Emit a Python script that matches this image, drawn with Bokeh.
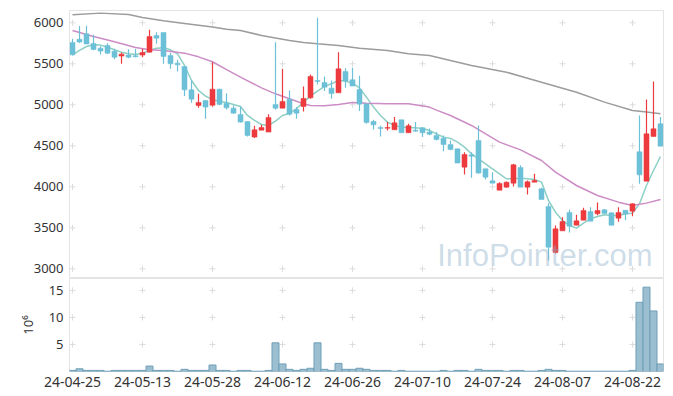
from bokeh.plotting import figure
from bokeh.layouts import column
from bokeh.models import FixedTicker, ColumnDataSource, Label, Range1d
from bokeh.embed import file_html
from bokeh.resources import INLINE

# ---------------- data ----------------
tick_idx = [0, 10, 20, 30, 40, 50, 60, 70, 80]
tick_labels = ["24-04-25", "24-05-13", "24-05-28", "24-06-12", "24-06-26",
               "24-07-10", "24-07-24", "24-08-07", "24-08-22"]
price_ticks = [3000, 3500, 4000, 4500, 5000, 5500, 6000]
volume_ticks = [5, 10, 15]

opens = [5760, 5800, 5866, 5748, 5691, 5724, 5654, 5594, 5606, 5598,
         5606, 5642, 5845, 5882, 5602, 5508, 5467, 5183, 4992, 5053,
         4996, 5191, 5020, 4959, 4882, 4797, 4606, 4691, 4667, 5004,
         4959, 5069, 4943, 4980, 5085, 5297, 5272, 5203, 5146, 5407,
         5305, 5187, 5012, 4797, 4724, 4715, 4695, 4817, 4659, 4691,
         4719, 4667, 4626, 4593, 4516, 4463, 4240, 4390, 4565, 4220,
         4073, 3959, 3996, 4045, 4236, 3996, 4057, 3975, 3760, 3199,
         3463, 3687, 3532, 3593, 3699, 3671, 3719, 3683, 3618, 3715,
         3703, 4427, 4069, 4614, 4768]
highs = [5805, 5960, 5963, 5853, 5715, 5752, 5683, 5638, 5679, 5683,
         5683, 5915, 5886, 5882, 5634, 5549, 5467, 5297, 5134, 5053,
         5520, 5195, 5142, 4992, 4980, 4797, 4744, 4756, 4886, 5764,
         5439, 5175, 4972, 5224, 5370, 6061, 5346, 5297, 5642, 5447,
         5451, 5354, 5012, 4817, 4744, 4789, 4850, 4817, 4768, 4789,
         4728, 4711, 4667, 4626, 4565, 4463, 4423, 4423, 4748, 4220,
         4179, 4057, 4065, 4281, 4264, 4077, 4159, 3988, 3801, 3528,
         3630, 3720, 3659, 3744, 3752, 3809, 3728, 3687, 3752, 3715,
         3801, 4870, 5065, 5285, 4850]
lows = [5600, 5755, 5740, 5665, 5614, 5620, 5557, 5500, 5569, 5581,
        5581, 5638, 5744, 5500, 5439, 5406, 5106, 5024, 4963, 4829,
        4980, 4996, 4943, 4890, 4780, 4614, 4594, 4691, 4667, 4939,
        4959, 4870, 4829, 4919, 5073, 5248, 5167, 5073, 5146, 5207,
        5228, 4923, 4768, 4699, 4614, 4687, 4695, 4659, 4659, 4670,
        4606, 4630, 4565, 4435, 4447, 4289, 4151, 4110, 4159, 4090,
        4045, 3959, 3988, 4004, 3996, 3906, 4057, 3845, 3102, 3187,
        3463, 3443, 3532, 3593, 3581, 3654, 3675, 3528, 3573, 3593,
        3642, 4037, 4069, 4614, 4496]
closes = [5610, 5765, 5740, 5675, 5655, 5630, 5581, 5618, 5581, 5585,
          5638, 5833, 5813, 5589, 5500, 5488, 5183, 5069, 5028, 4972,
          5191, 5004, 4963, 4898, 4789, 4626, 4695, 4724, 4846, 4959,
          5041, 4886, 4898, 5077, 5346, 5285, 5215, 5138, 5439, 5289,
          5228, 5008, 4785, 4756, 4711, 4724, 4780, 4659, 4744, 4679,
          4659, 4642, 4577, 4516, 4455, 4289, 4394, 4374, 4167, 4118,
          4045, 4041, 4057, 4268, 3996, 4061, 4077, 3845, 3264, 3488,
          3577, 3520, 3585, 3711, 3581, 3711, 3675, 3532, 3687, 3667,
          3793, 4146, 4646, 4707, 4496]
volumes = [0.2, 0.5, 0.2, 0.2, 0.2, 0.05, 0.2, 0.2, 0.2, 0.2,
           0.2, 1.0, 0.2, 0.2, 0.2, 0.05, 0.4, 0.2, 0.2, 0.2,
           1.2, 0.2, 0.2, 0.05, 0.2, 0.2, 0.05, 0.05, 0.2, 5.3,
           1.4, 0.4, 0.2, 0.4, 0.6, 5.3, 0.4, 0.2, 1.5, 0.4,
           0.4, 0.6, 0.4, 0.2, 0.2, 0.2, 0.05, 0.2, 0.05, 0.05,
           0.05, 0.05, 0.05, 0.2, 0.05, 0.2, 0.2, 0.05, 0.4, 0.2,
           0.2, 0.2, 0.05, 0.2, 0.2, 0.05, 0.05, 0.2, 0.4, 0.2,
           0.2, 0.05, 0.05, 0.05, 0.05, 0.05, 0.05, 0.05, 0.05, 0.05,
           0.2, 12.8, 15.6, 11.2, 1.4]

ma_short = [5610, 5663, 5711, 5732, 5728, 5703, 5671, 5642, 5622, 5614,
            5630, 5663, 5691, 5695, 5671, 5622, 5480, 5297, 5175, 5106,
            5065, 5041, 5028, 5004, 4980, 4870, 4809, 4760, 4748, 4801,
            4870, 4898, 4951, 5033, 5106, 5167, 5224, 5256, 5297, 5289,
            5264, 5207, 5093, 4972, 4870, 4789, 4748, 4728, 4720, 4720,
            4711, 4687, 4646, 4606, 4590, 4545, 4484, 4403, 4341, 4281,
            4220, 4159, 4098, 4098, 4106, 4098, 4090, 4057, 3833, 3691,
            3589, 3528, 3496, 3557, 3610, 3638, 3659, 3650, 3650, 3671,
            3679, 3793, 4016, 4199, 4370]
ma_mid_idx = [0, 3, 6, 9, 11, 13, 16, 18, 20, 22, 24, 27, 29, 31, 33, 34,
              36, 38, 40, 42, 45, 48, 51, 52, 54, 57, 61, 64, 67, 69, 72,
              75, 78, 80, 82, 84]
ma_mid = [5907, 5833, 5770, 5700, 5670, 5663, 5630, 5585, 5525, 5430, 5337,
          5207, 5134, 5073, 5012, 4992, 4988, 5004, 5028, 5020, 5012, 5012,
          4972, 4935, 4870, 4748, 4545, 4451, 4321, 4179, 4016, 3894, 3813,
          3772, 3801, 3846]
ma_long_idx = [0, 4, 8, 10, 13, 16, 20, 22, 24, 27, 31, 33, 35, 38, 41, 45,
               48, 51, 54, 57, 62, 67, 72, 76, 80, 82, 84]
ma_long = [6098, 6118, 6100, 6065, 6024, 5992, 5950, 5920, 5907, 5846, 5785,
           5760, 5744, 5724, 5691, 5663, 5622, 5602, 5540, 5480, 5398, 5276,
           5154, 5033, 4931, 4911, 4890]

# ---------------- derived sources ----------------
idx = list(range(len(opens)))
UP, DOWN = "#ec3a3f", "#6cc0d7"
colors = [UP if c > o else DOWN for o, c in zip(opens, closes)]
tops = [max(o, c) for o, c in zip(opens, closes)]
bots = [min(o, c) for o, c in zip(opens, closes)]
src = ColumnDataSource(dict(x=idx, o=opens, h=highs, l=lows, c=closes,
                            top=tops, bot=bots, color=colors, vol=volumes))

FONT = "Noto Sans"
TXT = "#333333"
BORDER = "#e4e4e4"
CROSS = "#dcdcdc"
LEFT = 69
RIGHT = 5
WIDTH = 668

xr = Range1d(-0.43, 84.43)

# ---------------- price panel ----------------
p = figure(width=WIDTH, height=278, x_range=xr, y_range=Range1d(2882, 6150),
           output_backend="svg", toolbar_location=None, x_axis_location=None,
           min_border_left=LEFT, min_border_right=RIGHT, min_border_top=10,
           min_border_bottom=0)
p.grid.visible = False
p.outline_line_color = BORDER
p.yaxis.ticker = FixedTicker(ticks=price_ticks)
p.yaxis.axis_line_color = None
p.yaxis.major_tick_line_color = None
p.yaxis.minor_tick_line_color = None
p.yaxis.major_tick_out = 0
p.yaxis.major_tick_in = 0
p.yaxis.minor_tick_out = 0
p.yaxis.major_label_standoff = 6
p.yaxis.major_label_text_font = FONT
p.yaxis.major_label_text_font_size = "13px"
p.yaxis.major_label_text_color = TXT

gx = [x for x in tick_idx for _ in price_ticks]
gy = [y for _ in tick_idx for y in price_ticks]
p.scatter(gx, gy, marker="cross", size=6, line_color=CROSS, line_width=1)

p.line(idx, ma_short, line_color="#8dcfc5", line_width=1.5)
p.line(ma_mid_idx, ma_mid, line_color="#cc8cc5", line_width=1.5)
p.line(ma_long_idx, ma_long, line_color="#9c9c9c", line_width=1.5)

p.segment(x0="x", y0="l", x1="x", y1="h", line_color="color", line_width=1.2, source=src)
p.vbar(x="x", top="top", bottom="bot", width=0.72, fill_color="color",
       line_color="color", line_width=0.5, source=src)

wm = Label(x=52.1, y=3161, text="InfoPointer.com", text_font="Liberation Sans",
           text_font_size="31px", text_color="#8fb3cb", text_alpha=0.45,
           text_baseline="middle")
p.add_layout(wm)

# ---------------- volume panel ----------------
v = figure(width=WIDTH, height=111, x_range=xr, y_range=Range1d(0, 17.2),
           output_backend="svg", toolbar_location=None,
           min_border_left=LEFT, min_border_right=RIGHT, min_border_top=0,
           min_border_bottom=0)
v.grid.visible = False
v.outline_line_color = BORDER
v.yaxis.ticker = FixedTicker(ticks=volume_ticks)
v.xaxis.ticker = FixedTicker(ticks=tick_idx)
v.xaxis.major_label_overrides = {i: s for i, s in zip(tick_idx, tick_labels)}
for ax in (v.xaxis, v.yaxis):
    ax.axis_line_color = None
    ax.major_tick_line_color = None
    ax.minor_tick_line_color = None
    ax.major_tick_out = 0
    ax.major_tick_in = 0
    ax.minor_tick_out = 0
    ax.major_label_text_font = FONT
    ax.major_label_text_font_size = "13px"
    ax.major_label_text_color = TXT
v.xaxis.major_label_standoff = 5
v.xaxis.major_label_text_font_size = "14px"
v.yaxis.major_label_standoff = 6
v.yaxis.axis_label = "10\u2076"
v.yaxis.axis_label_text_font = FONT
v.yaxis.axis_label_text_font_size = "13px"
v.yaxis.axis_label_text_font_style = "normal"
v.yaxis.axis_label_text_color = TXT
v.yaxis.axis_label_standoff = 9

vx = [x for x in tick_idx for _ in volume_ticks]
vy = [y for _ in tick_idx for y in volume_ticks]
v.scatter(vx, vy, marker="cross", size=6, line_color=CROSS, line_width=1)
v.vbar(x="x", top="vol", bottom=0, width=1.0, fill_color="#9bbfd0",
       fill_alpha=1.0, line_color="#6f9fb7", line_width=1, source=src)

layout = column(p, v, spacing=0)
open("out.html", "w").write(file_html(layout, INLINE))
